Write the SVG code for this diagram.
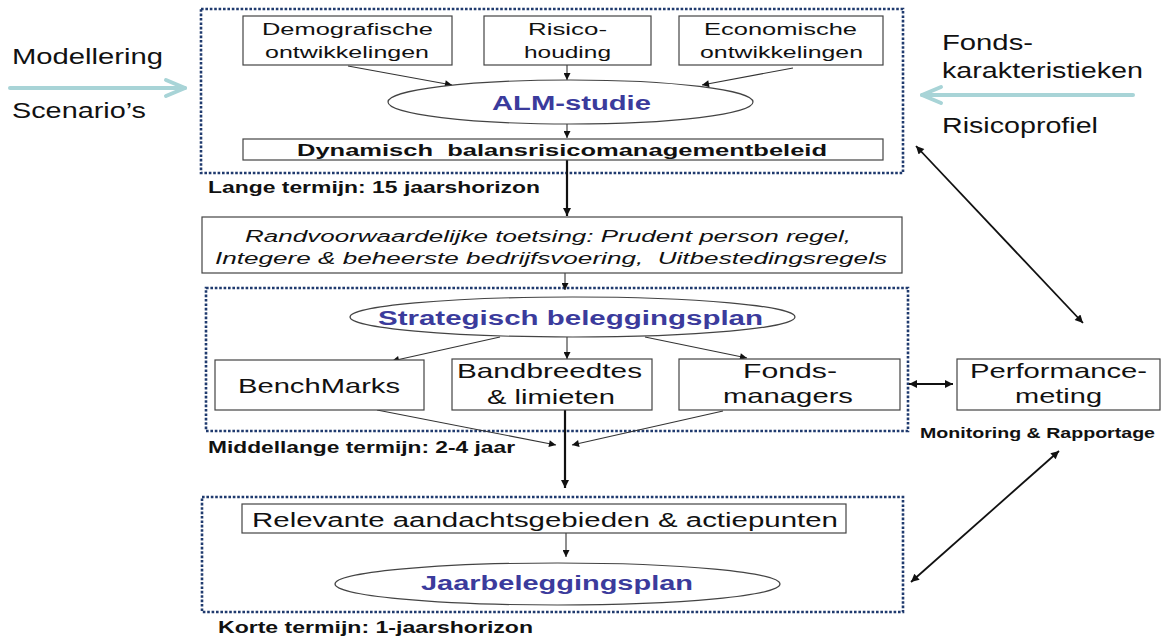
<svg xmlns="http://www.w3.org/2000/svg" width="1162" height="638" viewBox="0 0 1162 638">
<defs>
<style>
.t{font-family:"Liberation Sans",Arial,sans-serif;fill:#111;}
.n{font-size:17px;}
.m{font-size:21px;}
.b{font-weight:bold;}
.blue{fill:#3b3b9c;font-weight:bold;font-size:20px;}
.i{font-style:italic;font-size:16px;}
.lbl{font-weight:bold;font-size:17px;}
.box{fill:#fff;stroke:#444;stroke-width:1.2;}
.ell{fill:#fff;stroke:#444;stroke-width:1.2;}
.dot{fill:none;stroke:#1f3a6e;stroke-width:2.6;stroke-dasharray:2.6 1.8;}
.thin{fill:none;stroke:#333;stroke-width:1.1;}
.thick{fill:none;stroke:#111;stroke-width:2.2;}
.dbl{fill:none;stroke:#111;stroke-width:1.8;}
.cyan{fill:none;stroke:#a8d4d7;stroke-width:4;stroke-linecap:round;stroke-linejoin:round;}
</style>
<marker id="ah" viewBox="0 0 10 10" refX="10" refY="5" markerUnits="userSpaceOnUse" markerWidth="9" markerHeight="7" orient="auto-start-reverse">
<path d="M0,0 L10,5 L0,10 z" fill="#111"/>
</marker>
<marker id="ahb" viewBox="0 0 10 10" refX="10" refY="5" markerUnits="userSpaceOnUse" markerWidth="11" markerHeight="8" orient="auto-start-reverse">
<path d="M0,0 L10,5 L0,10 z" fill="#111"/>
</marker>
</defs>
<rect width="1162" height="638" fill="#fff"/>

<g id="containers">
<rect class="dot" x="201" y="9" width="702" height="164"/>
<rect class="dot" x="206" y="288" width="702" height="143"/>
<rect class="dot" x="202" y="497" width="701" height="115"/>
</g>

<g id="connectors">
<line class="thin" x1="348" y1="66" x2="452" y2="85" marker-end="url(#ah)"/>
<line class="thin" x1="567" y1="65" x2="567" y2="80" marker-end="url(#ah)"/>
<line class="thin" x1="793" y1="68" x2="702" y2="85" marker-end="url(#ah)"/>
<line class="thin" x1="567" y1="124" x2="567" y2="138" marker-end="url(#ah)"/>
<line class="thick" x1="567" y1="160" x2="567" y2="216" marker-end="url(#ahb)"/>
<line class="thin" x1="565" y1="273" x2="565" y2="290" marker-end="url(#ah)"/>
<line class="thin" x1="500" y1="337" x2="392" y2="361" marker-end="url(#ah)"/>
<line class="thin" x1="567" y1="337" x2="567" y2="359" marker-end="url(#ah)"/>
<line class="thin" x1="645" y1="337" x2="747" y2="358" marker-end="url(#ah)"/>
<line class="thin" x1="377" y1="410" x2="556" y2="445" marker-end="url(#ah)"/>
<line class="thin" x1="723" y1="411" x2="572" y2="445" marker-end="url(#ah)"/>
<line class="thick" x1="565" y1="410" x2="565" y2="488" marker-end="url(#ahb)"/>
<line class="thin" x1="566" y1="533" x2="566" y2="557" marker-end="url(#ah)"/>
<line class="dbl" x1="909" y1="384" x2="953" y2="384" marker-start="url(#ahb)" marker-end="url(#ahb)"/>
<line class="dbl" x1="916" y1="146" x2="1083" y2="323" marker-start="url(#ahb)" marker-end="url(#ahb)"/>
<line class="dbl" x1="911" y1="582" x2="1059" y2="451" marker-start="url(#ahb)" marker-end="url(#ahb)"/>
<polyline class="cyan" points="10,88 185,88"/>
<polyline class="cyan" points="166,80 185,88 166,96"/>
<polyline class="cyan" points="1133,95 922,95"/>
<polyline class="cyan" points="941,87 922,95 941,103"/>
</g>

<g id="side-left">
<text class="t" x="12" y="64" font-size="22" textLength="151" lengthAdjust="spacingAndGlyphs">Modellering</text>
<text class="t" x="12" y="118" font-size="22" textLength="134" lengthAdjust="spacingAndGlyphs">Scenario’s</text>
</g>
<g id="side-right">
<text class="t" x="942" y="50" font-size="22" textLength="91" lengthAdjust="spacingAndGlyphs">Fonds-</text>
<text class="t" x="942" y="78" font-size="22" textLength="201" lengthAdjust="spacingAndGlyphs">karakteristieken</text>
<text class="t" x="942" y="133" font-size="22" textLength="156" lengthAdjust="spacingAndGlyphs">Risicoprofiel</text>
</g>

<g id="demografische">
<rect class="box" x="243" y="16" width="209" height="49"/>
<text class="t n" x="262" y="35" textLength="171" lengthAdjust="spacingAndGlyphs">Demografische</text>
<text class="t n" x="265" y="58" textLength="164" lengthAdjust="spacingAndGlyphs">ontwikkelingen</text>
</g>
<g id="risicohouding">
<rect class="box" x="484" y="16" width="167" height="49"/>
<text class="t n" x="528" y="35" textLength="79" lengthAdjust="spacingAndGlyphs">Risico-</text>
<text class="t n" x="524" y="58" textLength="87" lengthAdjust="spacingAndGlyphs">houding</text>
</g>
<g id="economische">
<rect class="box" x="679" y="16" width="204" height="49"/>
<text class="t n" x="704" y="35" textLength="153" lengthAdjust="spacingAndGlyphs">Economische</text>
<text class="t n" x="700" y="58" textLength="163" lengthAdjust="spacingAndGlyphs">ontwikkelingen</text>
</g>
<g id="alm-studie">
<ellipse class="ell" cx="570.5" cy="102" rx="182.5" ry="22"/>
<text class="t blue" x="492" y="110" textLength="159" lengthAdjust="spacingAndGlyphs">ALM-studie</text>
</g>
<g id="dynamisch">
<rect class="box" x="243" y="139" width="640" height="21"/>
<text class="t b" x="297" y="156" font-size="17" xml:space="preserve" textLength="530" lengthAdjust="spacingAndGlyphs">Dynamisch  balansrisicomanagementbeleid</text>
</g>
<g id="lange-termijn">
<text class="t lbl" x="208" y="193" textLength="332" lengthAdjust="spacingAndGlyphs">Lange termijn: 15 jaarshorizon</text>
</g>
<g id="randvoorwaarden">
<rect class="box" x="202" y="217" width="700" height="56"/>
<text class="t i" x="245" y="242" textLength="606" lengthAdjust="spacingAndGlyphs">Randvoorwaardelijke toetsing: Prudent person regel,</text>
<text class="t i" x="215" y="264" xml:space="preserve" textLength="672" lengthAdjust="spacingAndGlyphs">Integere &amp; beheerste bedrijfsvoering,  Uitbestedingsregels</text>
</g>
<g id="strategisch">
<ellipse class="ell" cx="572.5" cy="317" rx="222.5" ry="20"/>
<text class="t blue" x="378" y="325" textLength="385" lengthAdjust="spacingAndGlyphs">Strategisch beleggingsplan</text>
</g>
<g id="benchmarks">
<rect class="box" x="215" y="360" width="209" height="50"/>
<text class="t m" x="238" y="393" textLength="162" lengthAdjust="spacingAndGlyphs">BenchMarks</text>
</g>
<g id="bandbreedtes">
<rect class="box" x="452" y="359" width="200" height="51"/>
<text class="t m" x="457" y="378" textLength="185" lengthAdjust="spacingAndGlyphs">Bandbreedtes</text>
<text class="t m" x="487" y="404" textLength="128" lengthAdjust="spacingAndGlyphs">&amp; limieten</text>
</g>
<g id="fondsmanagers">
<rect class="box" x="679" y="359" width="221" height="51"/>
<text class="t m" x="743" y="378" textLength="94" lengthAdjust="spacingAndGlyphs">Fonds-</text>
<text class="t m" x="723" y="403" textLength="130" lengthAdjust="spacingAndGlyphs">managers</text>
</g>
<g id="performance">
<rect class="box" x="957" y="359" width="203" height="51"/>
<text class="t m" x="970" y="378" textLength="177" lengthAdjust="spacingAndGlyphs">Performance-</text>
<text class="t m" x="1015" y="403" textLength="87" lengthAdjust="spacingAndGlyphs">meting</text>
</g>
<g id="monitoring">
<text class="t b" x="920" y="438" font-size="15" textLength="235" lengthAdjust="spacingAndGlyphs">Monitoring &amp; Rapportage</text>
</g>
<g id="middellange-termijn">
<text class="t lbl" x="208" y="453" textLength="307" lengthAdjust="spacingAndGlyphs">Middellange termijn: 2-4 jaar</text>
</g>
<g id="relevante">
<rect class="box" x="242" y="504" width="604" height="29"/>
<text class="t" x="252" y="527" font-size="20" textLength="586" lengthAdjust="spacingAndGlyphs">Relevante aandachtsgebieden &amp; actiepunten</text>
</g>
<g id="jaarbeleggingsplan">
<ellipse class="ell" cx="557.5" cy="584" rx="222.5" ry="21"/>
<text class="t blue" x="421" y="590" textLength="272" lengthAdjust="spacingAndGlyphs">Jaarbeleggingsplan</text>
</g>
<g id="korte-termijn">
<text class="t lbl" x="218" y="633" textLength="315" lengthAdjust="spacingAndGlyphs">Korte termijn: 1-jaarshorizon</text>
</g>
</svg>
